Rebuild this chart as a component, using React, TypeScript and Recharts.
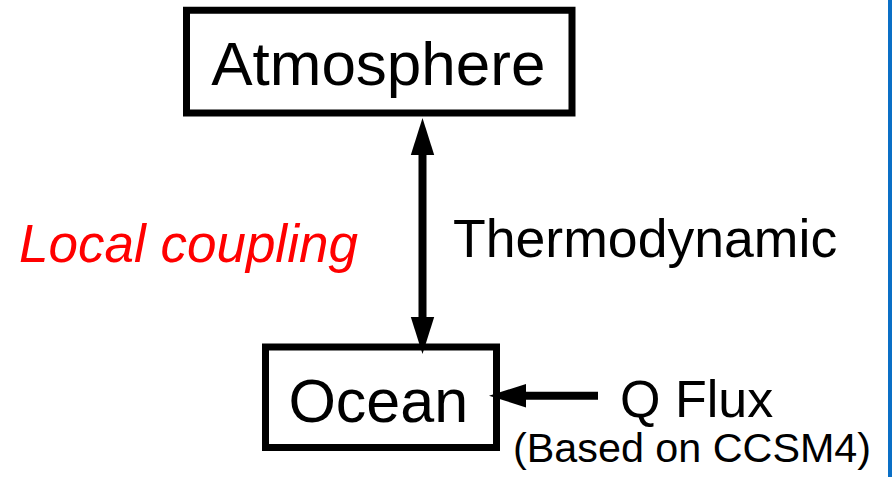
import React from 'react';
import {
  ScatterChart,
  Scatter,
  XAxis,
  YAxis,
  ReferenceArea,
  ReferenceLine,
} from 'recharts';

// diagram: local thermodynamic coupling between atmosphere and slab ocean (Q flux forcing)
const W = 892;
const H = 477;

// boxes (border centerline, in plot units)
const boxNames = ['Atmosphere', 'Ocean'];
const boxX1 = [186.5, 265.5];
const boxX2 = [572, 496.5];
const boxY1 = [10.3, 347];
const boxY2 = [113, 447.5];

// arrow shafts
const shaftFrom = [
  { x: 422.5, y: 150 },
  { x: 520, y: 395.7 },
];
const shaftTo = [
  { x: 422.5, y: 320 },
  { x: 598, y: 395.7 },
];

// arrow tips
const arrowTips = [
  { x: 422.5, y: 118, dir: 'up' },
  { x: 422.5, y: 354, dir: 'down' },
  { x: 489, y: 395.7, dir: 'left' },
];

// text labels
const labels = [
  { id: 'atm', text: 'Atmosphere', x: 378.3, y: 85 },
  { id: 'ocn', text: 'Ocean', x: 378.3, y: 421.7 },
  { id: 'local', text: 'Local coupling', x: 19, y: 262 },
  { id: 'thermo', text: 'Thermodynamic', x: 453, y: 257 },
  { id: 'qflux', text: 'Q Flux', x: 620, y: 417 },
  { id: 'based', text: '(Based on CCSM4)', x: 513, y: 462 },
];

// slide edge strip on the right
const edgeX1 = 888;
const edgeX2 = 892;

const FONT = '"Liberation Sans", Arial, Helvetica, sans-serif';

const labelStyle: Record<string, any> = {
  atm: { fontSize: 62, anchor: 'middle', fill: '#000' },
  ocn: { fontSize: 61, anchor: 'middle', fill: '#000' },
  local: { fontSize: 53, anchor: 'start', fill: '#ff0000', italic: true },
  thermo: { fontSize: 53.6, anchor: 'start', fill: '#000' },
  qflux: { fontSize: 52, anchor: 'start', fill: '#000' },
  based: { fontSize: 41.3, anchor: 'start', fill: '#000' },
};

const HEAD_LEN = 37;
const HEAD_HALF = 11.7;

const LabelShape = (props: any) => {
  const { cx, cy, payload } = props;
  const s = labelStyle[payload.id];
  return (
    <text
      x={cx}
      y={cy}
      textAnchor={s.anchor}
      fontFamily={FONT}
      fontSize={s.fontSize}
      fontStyle={s.italic ? 'italic' : 'normal'}
      fill={s.fill}
    >
      {payload.text}
    </text>
  );
};

const HeadShape = (props: any) => {
  const { cx, cy, payload } = props;
  let pts = '';
  if (payload.dir === 'up') {
    pts = `${cx},${cy} ${cx - HEAD_HALF},${cy + HEAD_LEN} ${cx + HEAD_HALF},${cy + HEAD_LEN}`;
  } else if (payload.dir === 'down') {
    pts = `${cx},${cy} ${cx - HEAD_HALF},${cy - HEAD_LEN} ${cx + HEAD_HALF},${cy - HEAD_LEN}`;
  } else {
    pts = `${cx},${cy} ${cx + HEAD_LEN},${cy - HEAD_HALF} ${cx + HEAD_LEN},${cy + HEAD_HALF}`;
  }
  return <polygon points={pts} fill="#000" />;
};

export default function App() {
  return (
    <div style={{ width: W, height: H, background: '#fff' }}>
      <style>{`body{margin:0;}`}</style>
      <ScatterChart width={W} height={H} margin={{ top: 0, right: 0, bottom: 0, left: 0 }}>
        <XAxis type="number" dataKey="x" domain={[0, W]} hide />
        <YAxis type="number" dataKey="y" domain={[0, H]} reversed hide />
        {boxNames.map((name, i) => (
          <ReferenceArea
            key={name}
            x1={boxX1[i]}
            x2={boxX2[i]}
            y1={boxY1[i]}
            y2={boxY2[i]}
            fill="none"
            fillOpacity={0}
            stroke="#000"
            strokeWidth={7}
            strokeOpacity={1}
          />
        ))}
        {shaftFrom.map((p, i) => (
          <ReferenceLine
            key={`shaft-${i}`}
            segment={[p, shaftTo[i]]}
            stroke="#000"
            strokeWidth={8}
          />
        ))}
        <ReferenceArea
          x1={edgeX1}
          x2={edgeX2}
          y1={0}
          y2={H}
          fill="#0a6fc6"
          fillOpacity={1}
          stroke="none"
        />
        <Scatter data={arrowTips} shape={HeadShape} isAnimationActive={false} />
        <Scatter data={labels} shape={LabelShape} isAnimationActive={false} />
      </ScatterChart>
    </div>
  );
}
